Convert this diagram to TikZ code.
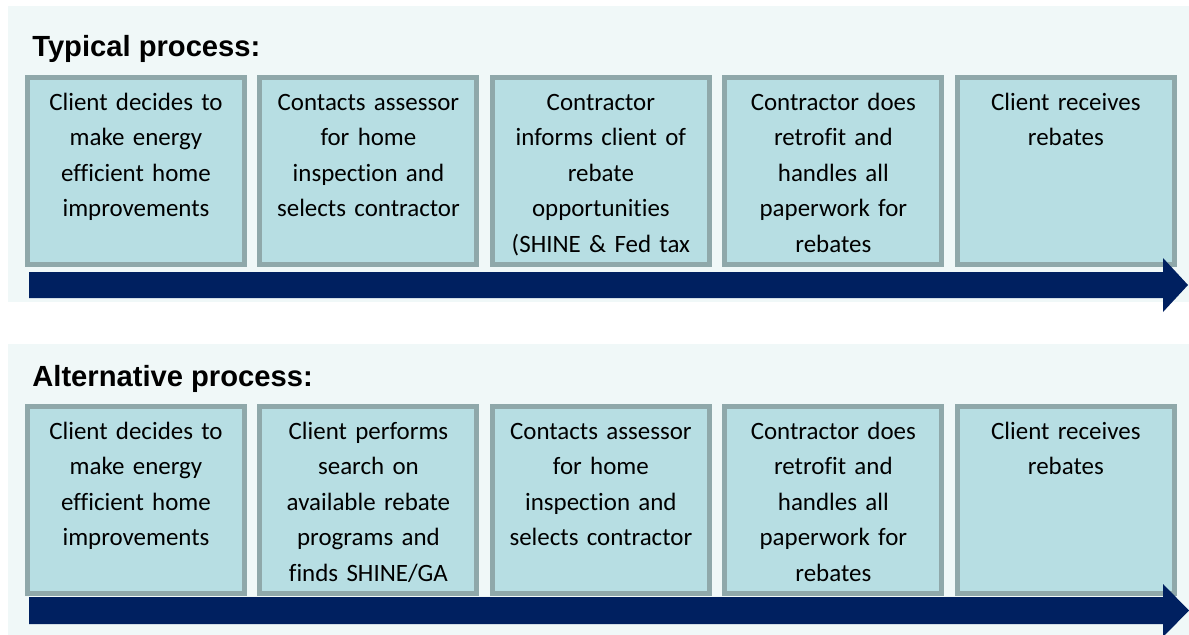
\documentclass[tikz,border=0pt]{standalone}
\usepackage{fontspec}
\setmainfont{Carlito}[Ligatures={NoCommon}]
\newfontfamily\titlefont{Liberation Sans}
\usetikzlibrary{positioning}
\definecolor{fundo}{RGB}{240,248,248}
\definecolor{caixa}{RGB}{183,222,227}
\definecolor{borda}{RGB}{143,168,170}
\definecolor{seta}{RGB}{0,32,96}
\tikzset{
  etapa/.style={draw=borda, fill=caixa, line width=0.1cm, minimum width=4.34cm, minimum height=3.74cm, inner sep=0pt},
  texto/.style={text width=4.3cm, align=center, inner sep=0pt, font=\fontsize{14.2}{20.2}\selectfont},
  titulo/.style={anchor=base west, inner sep=0pt, font=\titlefont\bfseries\fontsize{16.6}{20}\selectfont},
}
\begin{document}
\begin{tikzpicture}[x=0.02cm, y=-0.02cm]
    \useasboundingbox (0,0) rectangle (1189,635);
    \fill[fundo] (8,6) rectangle (1189,302); % Painel de cima
    \fill[fundo] (8,344) rectangle (1189,635); % Painel de baixo

    % Processo tipico
    \node[titulo] (tit1) at (32,57) {Typical process:};
    \node[etapa, anchor=north west] (a1) at (25,75) {};
    \node[etapa, right=0.21cm of a1] (a2) {};
    \node[etapa, right=0.21cm of a2] (a3) {};
    \node[etapa, right=0.21cm of a3] (a4) {};
    \node[etapa, right=0.21cm of a4] (a5) {};
    \node[texto, below=0.2cm of a1.north] (ta1) {\strut Client decides to\\make energy\\efficient home\\improvements};
    \node[texto, below=0.2cm of a2.north] (ta2) {\strut Contacts assessor\\for home\\inspection and\\selects contractor};
    \node[texto, below=0.2cm of a3.north] (ta3) {\strut Contractor\\informs client of\\rebate\\opportunities\\(SHINE \& Fed tax};
    \node[texto, below=0.2cm of a4.north] (ta4) {\strut Contractor does\\retrofit and\\handles all\\paperwork for\\rebates};
    \node[texto, below=0.2cm of a5.north] (ta5) {\strut Client receives\\rebates};
    \fill[seta] (29,272) -- (1163,272) -- (1163,258) -- (1188,285) -- (1163,312) -- (1163,298) -- (29,298) -- cycle; % Seta

    % Processo alternativo
    \node[titulo] (tit2) at (32,386) {Alternative process:};
    \node[etapa, anchor=north west] (b1) at (25,404) {};
    \node[etapa, right=0.21cm of b1] (b2) {};
    \node[etapa, right=0.21cm of b2] (b3) {};
    \node[etapa, right=0.21cm of b3] (b4) {};
    \node[etapa, right=0.21cm of b4] (b5) {};
    \node[texto, below=0.2cm of b1.north] (tb1) {\strut Client decides to\\make energy\\efficient home\\improvements};
    \node[texto, below=0.2cm of b2.north] (tb2) {\strut Client performs\\search on\\available rebate\\programs and\\finds SHINE/GA};
    \node[texto, below=0.2cm of b3.north] (tb3) {\strut Contacts assessor\\for home\\inspection and\\selects contractor};
    \node[texto, below=0.2cm of b4.north] (tb4) {\strut Contractor does\\retrofit and\\handles all\\paperwork for\\rebates};
    \node[texto, below=0.2cm of b5.north] (tb5) {\strut Client receives\\rebates};
    \fill[seta] (29,597) -- (1163,597) -- (1163,584) -- (1189,610.5) -- (1163,637) -- (1163,624) -- (29,624) -- cycle; % Seta
\end{tikzpicture}
\end{document}
